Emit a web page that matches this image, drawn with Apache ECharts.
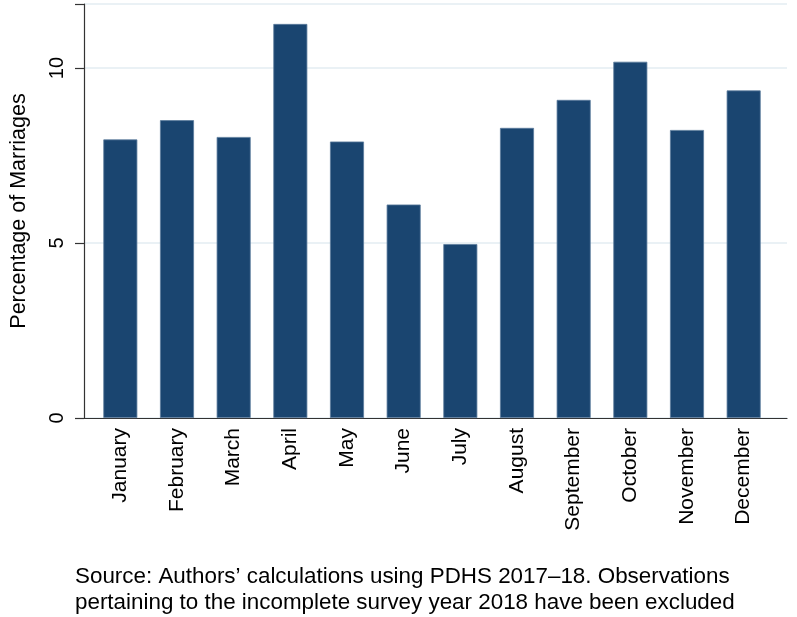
<!DOCTYPE html>
<html>
<head>
<meta charset="utf-8">
<script src="https://cdn.jsdelivr.net/npm/echarts@6/dist/echarts.min.js"></script>
<style>html,body{margin:0;padding:0;background:#fff}#c{width:797px;height:617px}</style>
</head>
<body>
<div id="c"></div>
<script>
var months = ['January','February','March','April','May','June','July','August','September','October','November','December'];
var percentages = [7.96, 8.51, 8.03, 11.26, 7.90, 6.10, 4.97, 8.29, 9.09, 10.18, 8.23, 9.36];
var yTicks = [0, 5, 10];
var yMax = 11.83;
var sourceNote = 'Source: Authors\u2019 calculations using PDHS 2017\u201318. Observations\npertaining to the incomplete survey year 2018 have been excluded';

var FONT = '"Liberation Sans", Arial, Helvetica, sans-serif';
var chart = echarts.init(document.getElementById('c'), null, {renderer: 'canvas'});
chart.setOption({
  backgroundColor: '#fff',
  textStyle: {fontFamily: FONT},
  title: {
    text: sourceNote,
    left: 75, top: 564, padding: 0,
    textStyle: {fontFamily: FONT, fontSize: 22.4, fontWeight: 'normal', color: '#000', lineHeight: 26}
  },
  grid: [
    {left: 77, right: 10, top: 4, bottom: 199},
    {left: 92, right: 25, top: 4, bottom: 199}
  ],
  xAxis: [
    {gridIndex: 0, type: 'value', min: 0, max: 1,
     axisLine: {show: true, lineStyle: {color: '#333', width: 1.2}},
     axisTick: {show: false}, axisLabel: {show: false}, splitLine: {show: false}},
    {gridIndex: 1, type: 'category', data: months,
     axisLine: {show: false}, axisTick: {show: false},
     axisLabel: {rotate: 90, margin: 10, fontSize: 21, color: '#000', fontFamily: FONT, interval: 0}}
  ],
  yAxis: [
    {gridIndex: 0, type: 'value', min: 0, max: yMax, interval: 5,
     name: 'Percentage of Marriages', nameLocation: 'middle', nameGap: 54,
     nameTextStyle: {fontSize: 21.5, color: '#000', fontFamily: FONT},
     axisLine: {show: true, lineStyle: {color: '#333', width: 1.2}},
     axisTick: {show: true, length: 9, lineStyle: {color: '#333', width: 1.2}},
     axisLabel: {rotate: 90, margin: 17, fontSize: 20, color: '#000', fontFamily: FONT,
       formatter: function (v) { return yTicks.indexOf(v) >= 0 ? String(v) : ''; }},
     splitLine: {show: true, lineStyle: {color: '#e3edf2', width: 1.5}}},
    {gridIndex: 1, type: 'value', min: 0, max: yMax, show: false, splitLine: {show: false}}
  ],
  series: [{
    type: 'bar', xAxisIndex: 1, yAxisIndex: 1,
    data: percentages, barWidth: '60%',
    itemStyle: {color: '#1a4570', borderColor: '#5b7b9c', borderWidth: 0.8},
    silent: true, animation: false
  }],
  animation: false
});
</script>
</body>
</html>
